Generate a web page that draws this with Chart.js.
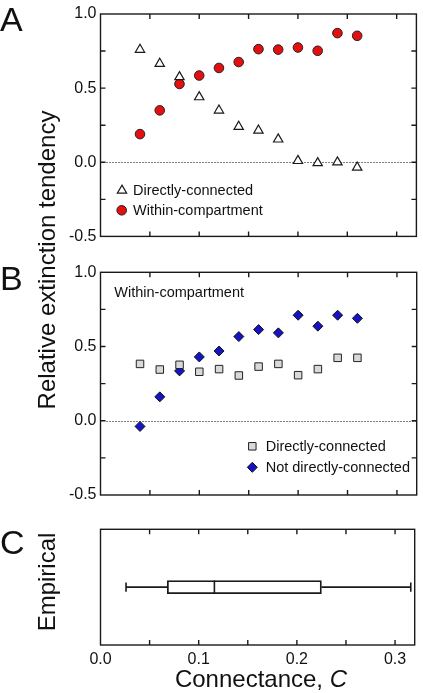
<!DOCTYPE html>
<html>
<head>
<meta charset="utf-8">
<script src="https://cdn.jsdelivr.net/npm/chart.js@4.4.1/dist/chart.umd.min.js"></script>
<style>
  body { margin: 0; background: #fff; width: 423px; height: 693px; position: relative; overflow: hidden;
         font-family: "Liberation Sans", Arial, sans-serif; color: #111; }
  canvas { position: absolute; left: 0; }
  .lbl { position: absolute; white-space: nowrap; line-height: 1; }
  .panel { font-size: 34px; left: 0; }
  .rot { font-size: 24px; transform: translate(-50%, -50%) rotate(-90deg); }
  .xtitle { font-size: 24px; transform: translateX(-50%); }
</style>
</head>
<body>
<canvas id="chartA" width="423" height="250" style="top:0px"></canvas>
<canvas id="chartB" width="423" height="260" style="top:250px"></canvas>
<canvas id="chartC" width="423" height="183" style="top:510px"></canvas>

<div class="lbl panel" style="top:2px">A</div>
<div class="lbl panel" style="top:261px">B</div>
<div class="lbl panel" style="top:525px">C</div>
<div class="lbl rot" style="left:47px; top:260px">Relative extinction tendency</div>
<div class="lbl rot" style="left:47px; top:582px">Empirical</div>
<div class="lbl xtitle" style="left:261px; top:667px">Connectance, <i>C</i></div>

<script>
// connectance values (x) shared by panels A and B
const connectance = [0.04, 0.06, 0.08, 0.10, 0.12, 0.14, 0.16, 0.18, 0.20, 0.22, 0.24, 0.26];

// panel A
const aDirect = [0.76, 0.665, 0.575, 0.44, 0.35, 0.24, 0.215, 0.155, 0.01, -0.005, 0.0, -0.035];
const aWithin = [0.19, 0.35, 0.528, 0.585, 0.636, 0.676, 0.763, 0.76, 0.774, 0.752, 0.871, 0.853];

// panel B (within-compartment)
const bDirect = [0.383, 0.345, 0.377, 0.33, 0.348, 0.305, 0.365, 0.383, 0.307, 0.348, 0.424, 0.424];
const bNotDirect = [-0.038, 0.161, 0.336, 0.43, 0.47, 0.567, 0.614, 0.592, 0.711, 0.637, 0.711, 0.69];

// panel C: empirical connectance box plot (whisker min, q1, median, q3, whisker max)
const empiricalBox = [0.026, 0.068, 0.116, 0.225, 0.316];

// axis ticks
const yLabelTicks = [-0.5, 0.0, 0.5, 1.0];
const yMinorTicks = [-0.25, 0, 0.25, 0.5, 0.75];
const xLabelTicks = [0.0, 0.1, 0.2, 0.3];
const xMinorTicks = [0.05, 0.1, 0.15, 0.2, 0.25, 0.3];

const FONT = '"Liberation Sans", Arial, sans-serif';
const RED = '#e50f0f';
const BLUE = '#1414c4';
const GRAY = '#d9d9d9';
const INK = '#1a1a1a';

function drawMarker(ctx, style, x, y, r) {
    ctx.beginPath();
    if (style === 'circle') {
        ctx.arc(x, y, r, 0, Math.PI * 2);
    } else if (style === 'triangle') {
        ctx.moveTo(x, y - r);
        ctx.lineTo(x + r * 0.866, y + r * 0.5);
        ctx.lineTo(x - r * 0.866, y + r * 0.5);
        ctx.closePath();
    } else if (style === 'rect') {
        const s = r * Math.SQRT1_2;
        ctx.rect(x - s, y - s, 2 * s, 2 * s);
    } else if (style === 'rectRot') {
        ctx.moveTo(x, y - r);
        ctx.lineTo(x + r, y);
        ctx.lineTo(x, y + r);
        ctx.lineTo(x - r, y);
        ctx.closePath();
    }
    ctx.fill();
    ctx.stroke();
}

// frame, inward ticks, dotted zero line and in-plot legend
const framePlugin = {
    id: 'frame',
    beforeDatasetsDraw(chart, args, opts) {
        if (!opts.zeroLine) return;
        const ctx = chart.ctx, a = chart.chartArea;
        const y0 = chart.scales.y.getPixelForValue(0);
        ctx.save();
        ctx.strokeStyle = '#000';
        ctx.lineWidth = 1.1;
        ctx.setLineDash([1, 2]);
        ctx.beginPath();
        ctx.moveTo(a.left + 6, Math.round(y0) + 0.5);
        ctx.lineTo(a.right, Math.round(y0) + 0.5);
        ctx.stroke();
        ctx.restore();
    },
    afterDraw(chart, args, opts) {
        const ctx = chart.ctx, a = chart.chartArea;
        const len = 5;
        ctx.save();
        ctx.strokeStyle = INK;
        ctx.lineWidth = 1.4;
        ctx.strokeRect(a.left, a.top, a.right - a.left, a.bottom - a.top);
        ctx.beginPath();
        (opts.xTicks || []).forEach(v => {
            const x = chart.scales.x.getPixelForValue(v);
            ctx.moveTo(x, a.top); ctx.lineTo(x, a.top + len);
            ctx.moveTo(x, a.bottom); ctx.lineTo(x, a.bottom - len);
        });
        (opts.yTicks || []).forEach(v => {
            const y = chart.scales.y.getPixelForValue(v);
            ctx.moveTo(a.left, y); ctx.lineTo(a.left + len, y);
            ctx.moveTo(a.right, y); ctx.lineTo(a.right - len, y);
        });
        ctx.stroke();

        ctx.font = '14.5px ' + FONT;
        ctx.textBaseline = 'alphabetic';
        ctx.fillStyle = '#111';
        (opts.notes || []).forEach(n => ctx.fillText(n.text, n.x, n.y));
        (opts.legend || []).forEach(item => {
            ctx.fillStyle = item.fill;
            ctx.strokeStyle = item.stroke;
            ctx.lineWidth = item.lw;
            drawMarker(ctx, item.style, item.x, item.y, item.r);
            ctx.fillStyle = '#111';
            ctx.fillText(item.text, item.tx, item.ty);
        });
        ctx.restore();
    }
};
Chart.register(framePlugin);

function panelOptions(padTop, padBottom, frame) {
    return {
        responsive: false,
        animation: false,
        events: [],
        layout: { padding: { top: padTop, bottom: padBottom, left: 0, right: 4.7 } },
        plugins: { legend: { display: false }, tooltip: { enabled: false }, frame: frame },
        scales: {
            x: { type: 'linear', min: 0, max: 0.32, display: false },
            y: {
                type: 'linear', min: -0.5, max: 1.0,
                grid: { display: false, drawTicks: false },
                border: { display: false },
                afterBuildTicks: s => { s.ticks = yLabelTicks.map(v => ({ value: v })); },
                afterFit: s => { s.width = 100.5; },
                ticks: { padding: 4, color: '#111', font: { family: FONT, size: 16 },
                         callback: v => Number(v).toFixed(1) }
            }
        }
    };
}

function points(ys) {
    return connectance.map((c, i) => ({ x: c, y: ys[i] }));
}

new Chart(document.getElementById('chartA'), {
    type: 'scatter',
    data: {
        datasets: [
            { label: 'Directly-connected', data: points(aDirect), pointStyle: 'triangle', pointRadius: 5.4,
              backgroundColor: '#fff', borderColor: INK, borderWidth: 1.2 },
            { label: 'Within-compartment', data: points(aWithin), pointStyle: 'circle', pointRadius: 4.8,
              backgroundColor: RED, borderColor: '#222', borderWidth: 1 }
        ]
    },
    options: panelOptions(14, 12, {
        zeroLine: true, xTicks: xMinorTicks, yTicks: yMinorTicks,
        legend: [
            { style: 'triangle', x: 122, y: 190.5, r: 5.4, fill: '#fff', stroke: INK, lw: 1.2,
              text: 'Directly-connected', tx: 133, ty: 194.5 },
            { style: 'circle', x: 121.7, y: 210.3, r: 4.8, fill: RED, stroke: '#222', lw: 1,
              text: 'Within-compartment', tx: 133, ty: 215 }
        ]
    })
});

new Chart(document.getElementById('chartB'), {
    type: 'scatter',
    data: {
        datasets: [
            { label: 'Directly-connected', data: points(bDirect), pointStyle: 'rect', pointRadius: 5.3,
              backgroundColor: GRAY, borderColor: '#222', borderWidth: 1 },
            { label: 'Not directly-connected', data: points(bNotDirect), pointStyle: 'rectRot', pointRadius: 5,
              backgroundColor: BLUE, borderColor: '#111', borderWidth: 1 }
        ]
    },
    options: panelOptions(22.3, 15, {
        zeroLine: true, xTicks: xMinorTicks, yTicks: yMinorTicks,
        notes: [{ text: 'Within-compartment', x: 114.3, y: 47.3 }],
        legend: [
            { style: 'rect', x: 252.3, y: 196.3, r: 5.3, fill: GRAY, stroke: '#222', lw: 1,
              text: 'Directly-connected', tx: 265.7, ty: 201 },
            { style: 'rectRot', x: 252.3, y: 217.3, r: 5, fill: BLUE, stroke: '#111', lw: 1,
              text: 'Not directly-connected', tx: 265.7, ty: 221.5 }
        ]
    })
});

// panel C: horizontal box plot
const [wMin, q1, med, q3, wMax] = empiricalBox;
const rowLabel = 'Empirical';
new Chart(document.getElementById('chartC'), {
    type: 'bar',
    data: {
        labels: [rowLabel],
        datasets: [
            { type: 'scatter', data: [{ x: med, y: rowLabel }], pointStyle: 'line', rotation: 90,
              pointRadius: 6.7, borderColor: INK, borderWidth: 1.6, order: 0 },
            { data: [[q1, q3]], backgroundColor: '#fff', borderColor: INK, borderWidth: 1.8,
              borderSkipped: false, barThickness: 13, order: 1 },
            { type: 'scatter', showLine: true, data: [{ x: wMin, y: rowLabel }, { x: q1, y: rowLabel }],
              pointRadius: 0, borderColor: INK, borderWidth: 1.6, order: 2 },
            { type: 'scatter', showLine: true, data: [{ x: q3, y: rowLabel }, { x: wMax, y: rowLabel }],
              pointRadius: 0, borderColor: INK, borderWidth: 1.6, order: 2 },
            { type: 'scatter', data: [{ x: wMin, y: rowLabel }, { x: wMax, y: rowLabel }], pointStyle: 'line',
              rotation: 90, pointRadius: 4.7, borderColor: INK, borderWidth: 1.6, order: 2 }
        ]
    },
    options: {
        indexAxis: 'y',
        responsive: false,
        animation: false,
        events: [],
        layout: { padding: { top: 19.3, bottom: 0, left: 100.5, right: 4.7 } },
        plugins: { legend: { display: false }, tooltip: { enabled: false },
                   frame: { xTicks: xMinorTicks } },
        scales: {
            x: {
                type: 'linear', min: 0, max: 0.32,
                grid: { display: false, drawTicks: false },
                border: { display: false },
                afterBuildTicks: s => { s.ticks = xLabelTicks.map(v => ({ value: v })); },
                afterFit: s => { s.height = 48; },
                ticks: { padding: 5, color: '#111', maxRotation: 0, font: { family: FONT, size: 16 },
                         callback: v => Number(v).toFixed(1) }
            },
            y: { type: 'category', display: false }
        }
    }
});
</script>
</body>
</html>
